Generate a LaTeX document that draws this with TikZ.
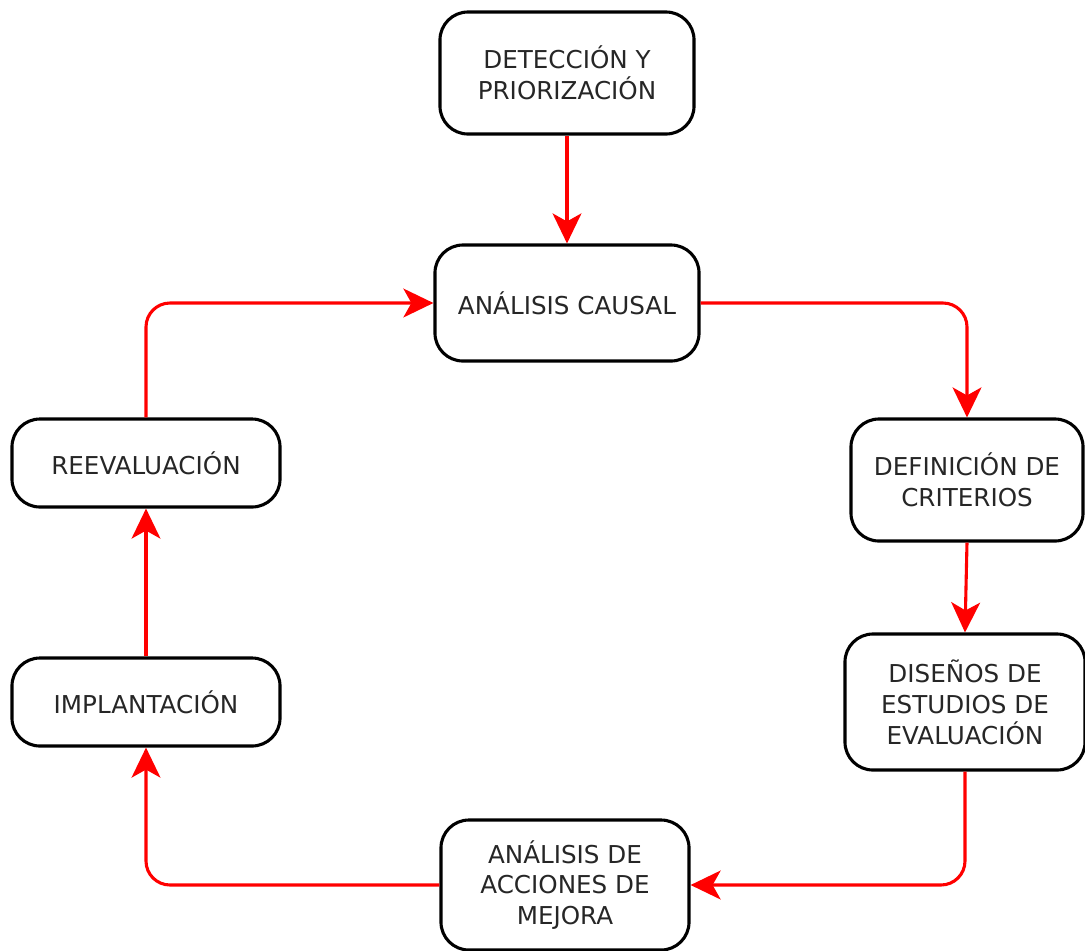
\documentclass[tikz,border=0pt]{standalone}
\usepackage{fontspec}
\setmainfont{DejaVu Sans}
\usetikzlibrary{arrows.meta}
\begin{document}
\begin{tikzpicture}[x=0.025cm,y=-0.025cm,
  paso/.style={rectangle,rounded corners=0.7cm,draw=black,line width=2.2pt,align=center,inner sep=0pt,font=\fontsize{17.5}{22}\selectfont,text=black!85},
  flecha/.style={draw=red,line width=2.2pt,rounded corners=0.6cm,-{Stealth[length=0.75cm,width=0.72cm,inset=0.2cm,red]}}]
\useasboundingbox (0,0) rectangle (1085,950);
\node[paso,minimum width=6.35cm,minimum height=3.05cm] (DP) at (567,73) {DETECCIÓN Y\\PRIORIZACIÓN};
\node[paso,minimum width=6.6cm,minimum height=2.9cm] (AC) at (567,303) {ANÁLISIS CAUSAL};
\node[paso,minimum width=5.8cm,minimum height=3.05cm] (DC) at (967,480) {DEFINICIÓN DE\\CRITERIOS};
\node[paso,minimum width=6cm,minimum height=3.4cm] (DE) at (965,702) {DISEÑOS DE\\ESTUDIOS DE\\EVALUACIÓN};
\node[paso,minimum width=6.2cm,minimum height=3.25cm] (AM) at (565,885) {ANÁLISIS DE\\ACCIONES DE\\MEJORA};
\node[paso,minimum width=6.7cm,minimum height=2.2cm] (IM) at (146,702) {IMPLANTACIÓN};
\node[paso,minimum width=6.7cm,minimum height=2.2cm] (RE) at (146,463) {REEVALUACIÓN};
\draw[flecha] (DP.south) -- (AC.north);
\draw[flecha] (AC.east) -| (DC.north);
\draw[flecha] (DC.south) -- (DE.north);
\draw[flecha] (DE.south) |- (AM.east);
\draw[flecha] (AM.west) -| (IM.south);
\draw[flecha] (IM.north) -- (RE.south);
\draw[flecha] (RE.north) |- (AC.west);
\end{tikzpicture}
\end{document}
